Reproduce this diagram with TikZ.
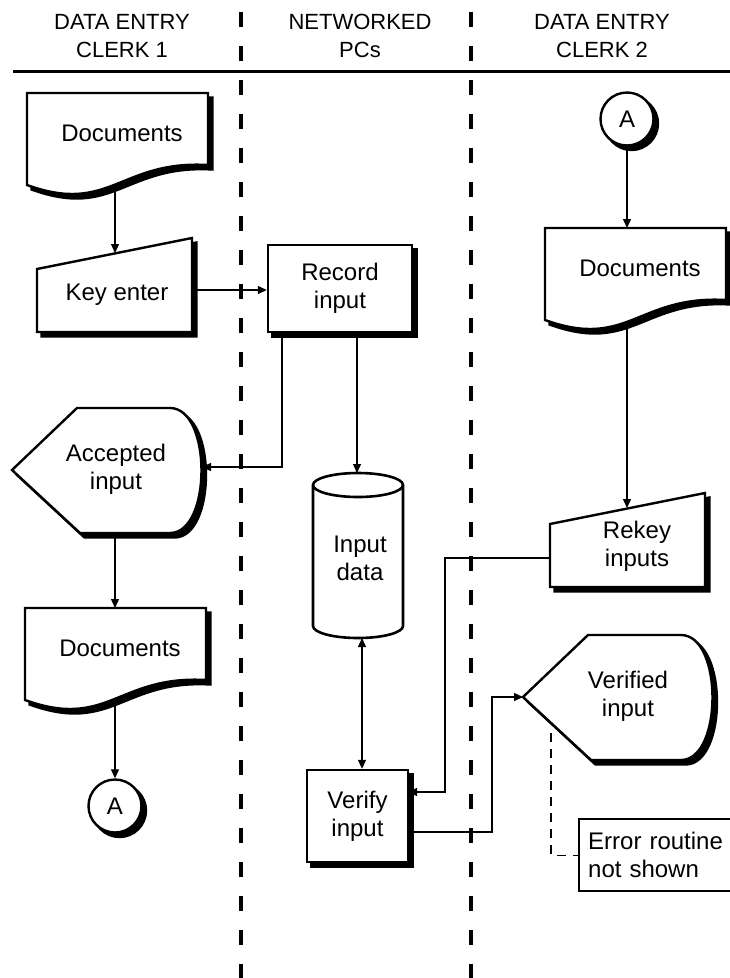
\documentclass[tikz,border=0pt]{standalone}
\usepackage{fontspec}
\setmainfont{Liberation Sans}
\usetikzlibrary{arrows.meta,shadows,calc}
\pgfdeclarelayer{bg}
\pgfsetlayers{bg,main}
\tikzset{
  shp/.style={draw=black, line width=2.4pt, fill=white, line join=miter,
    preaction={draw=black, fill=black, line width=2.4pt, transform canvas={xshift=4.5pt, yshift=-4.5pt}}},
  shpn/.style={shp, rectangle, inner sep=0pt, font=\fontsize{24}{28}\selectfont, align=center},
  circ/.style={shp, circle, inner sep=0pt, minimum size=53pt, font=\fontsize{24}{28}\selectfont},
  cyl/.style={draw=black, line width=2.6pt, fill=white},
  txt/.style={font=\fontsize{24}{28}\selectfont, align=center, inner sep=0pt},
  hdr/.style={font=\fontsize{22}{28}\selectfont, align=center, inner sep=0pt},
  conn/.style={line width=1.3pt},
  arr/.style={conn, -{Triangle[length=9pt,width=8pt]}},
  darr/.style={conn, {Triangle[length=9pt,width=8pt]}-{Triangle[length=9pt,width=8pt]}},
  lane/.style={line width=4pt, dash pattern=on 15pt off 19pt},
  errline/.style={line width=1.1pt, dash pattern=on 9pt off 7pt},
  errbox/.style={draw=black, line width=2.4pt, fill=white, anchor=north west,
    minimum height=72pt, text width=150pt, inner xsep=9pt, align=left,
    font=\fontsize{24}{28}\selectfont},
}
\newcommand\docpath[2]{%
  \path[shp,shift={(#1,#2)}] (0,0) -- (181,0) -- (181,72)
    .. controls (93,67) and (83,122) .. (0,92) -- cycle;}
\newcommand\manpath[2]{%
  \path[shp,shift={(#1,#2)}] (0,0) -- (0,-63) -- (155,-94) -- (155,0) -- cycle;}
\newcommand\disppath[2]{%
  \path[shp,shift={(#1,#2)}] (0,0) -- (65,-62) -- (158,-62)
    .. controls (200,-62) and (200,63) .. (158,63) -- (68,63) -- cycle;}
\begin{document}
\begin{tikzpicture}[x=1pt,y=-1pt]
\useasboundingbox (0,0) rectangle (730,978);

% headers
\node[hdr] (h1) at (122,36) {DATA ENTRY\\CLERK 1};
\node[hdr] (h2) at (360,36) {NETWORKED\\PCs};
\node[hdr] (h3) at (602,36) {DATA ENTRY\\CLERK 2};
\draw[line width=3pt] (13,71) -- (730,71);

% shapes
\docpath{27}{93}
\node[txt] (doc1) at (122,133) {Documents};
\manpath{37}{332}
\node[txt] (key) at (117,295) {Key enter};
\node[shpn, minimum width=144pt, minimum height=87pt] (rec) at (340,288.5) {Record\\input};
\disppath{12}{470}
\node[txt] (acc) at (116,469) {Accepted\\input};
\docpath{25}{608}
\node[txt] (doc2) at (120,648) {Documents};
\node[circ] (A1) at (115,806) {A};

\path[cyl] (313,485) -- (313,626) arc[start angle=180,end angle=360,x radius=45pt,y radius=12pt]
  -- (403,485) arc[start angle=0,end angle=180,x radius=45pt,y radius=12pt] -- cycle;
\draw[line width=2.6pt] (313,485) arc[start angle=180,end angle=360,x radius=45pt,y radius=12pt];
\node[txt] (cyl) at (360,558) {Input\\data};
\node[shpn, minimum width=101pt, minimum height=92pt] (ver) at (357.5,816) {Verify\\input};

\node[circ] (A2) at (627,119) {A};
\docpath{545}{228}
\node[txt] (doc3) at (640,268) {Documents};
\manpath{550}{587}
\node[txt] (rek) at (637,546) {Rekey\\inputs};
\disppath{523}{697}
\node[txt] (vfd) at (628,696) {Verified\\input};
\node[errbox] (err) at (578,818) {Error routine\\not shown};

% ports
\coordinate (doc1-s) at (115,180);
\coordinate (key-n) at (115,253);
\coordinate (key-e) at (185,290);
\coordinate (rec-p) at (282,320);
\coordinate (acc-e) at (202,467);
\coordinate (cyl-n) at (357,473);
\coordinate (acc-s) at (115,525);
\coordinate (doc2-n) at (115,608);
\coordinate (doc2-s) at (115,700);
\coordinate (doc3-n) at (627,228);
\coordinate (doc3-s) at (627,320);
\coordinate (rek-n) at (627,508);
\coordinate (rek-w) at (555,558);
\coordinate (ver-e1) at (408,792);
\coordinate (ver-e2) at (408,832);
\coordinate (cyl-s) at (362,638);
\coordinate (vfd-w) at (523,697);
\coordinate (vfd-d) at (551,733);

\begin{pgfonlayer}{bg}
\draw[lane] (241,12) -- (241,978);
\draw[lane] (471,12) -- (471,978);
\draw[arr] (doc1-s) -- (key-n);
\draw[arr] (key-e) -- (key-e -| rec.west);
\draw[arr] (rec-p) |- (acc-e);
\draw[arr] (rec.south -| cyl-n) -- (cyl-n);
\draw[arr] (acc-s) -- (doc2-n);
\draw[arr] (doc2-s) -- (A1.north);
\draw[arr] (A2.south) -- (doc3-n);
\draw[arr] (doc3-s) -- (rek-n);
\draw[arr] (rek-w) -- ++(-110,0) |- (ver-e1);
\draw[darr] (cyl-s) -- (cyl-s |- ver.north);
\draw[arr] (ver-e2) -- ++(84,0) |- (vfd-w);
\draw[errline] (vfd-d) |- (err.west);
\end{pgfonlayer}
\end{tikzpicture}
\end{document}
